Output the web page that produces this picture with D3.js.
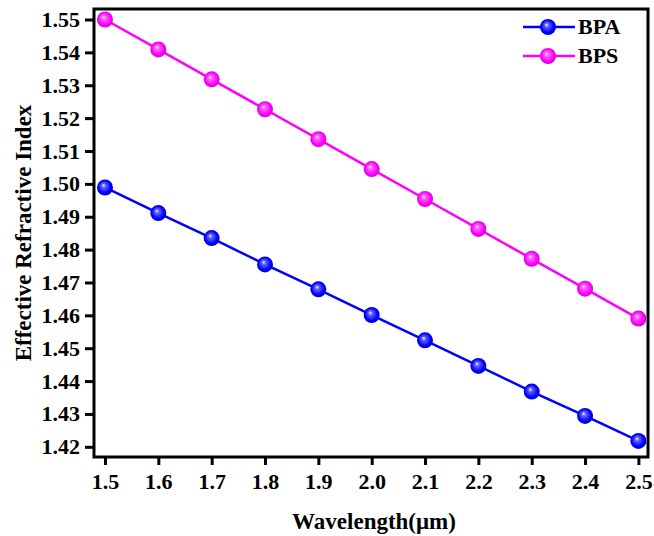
<!DOCTYPE html>
<html>
<head>
<meta charset="utf-8">
<script src="https://cdn.jsdelivr.net/npm/d3@7"></script>
<style>
  body { margin: 0; background: #fff; }
  text { font-family: "Liberation Serif", "Times New Roman", serif; font-weight: bold; }
</style>
</head>
<body>
<div id="chart"></div>
<script>
// données
var wavelength = [1.5, 1.6, 1.7, 1.8, 1.9, 2.0, 2.1, 2.2, 2.3, 2.4, 2.5];
var bpa = [1.4989, 1.4911, 1.4835, 1.4755, 1.4679, 1.4601, 1.4524, 1.4446, 1.4368, 1.4294, 1.4218];
var bps = [1.5500, 1.5409, 1.5318, 1.5227, 1.5136, 1.5045, 1.4954, 1.4863, 1.4772, 1.4681, 1.4590];
var xTicks = [1.5, 1.6, 1.7, 1.8, 1.9, 2.0, 2.1, 2.2, 2.3, 2.4, 2.5];
var yTicks = [1.42, 1.43, 1.44, 1.45, 1.46, 1.47, 1.48, 1.49, 1.50, 1.51, 1.52, 1.53, 1.54, 1.55];
var seriesNames = ["BPA", "BPS"];
var seriesColors = ["#0000ff", "#ff00ff"];

var width = 654, height = 536;
var margin = { left: 94, top: 9, right: 6, bottom: 79 };

var svg = d3.select("#chart").append("svg")
    .attr("width", width)
    .attr("height", height);

var x = d3.scaleLinear().domain([1.4794, 2.518]).range([margin.left, width - margin.right]);
var y = d3.scaleLinear().domain([1.4169, 1.5532]).range([height - margin.bottom, margin.top]);

// dégradés pour l'effet sphère des marqueurs
var defs = svg.append("defs");
seriesColors.forEach(function (c, i) {
    var g = defs.append("radialGradient")
        .attr("id", "ball" + i)
        .attr("cx", "50%").attr("cy", "50%").attr("r", "55%")
        .attr("fx", "40%").attr("fy", "35%");
    g.append("stop").attr("offset", "0%").attr("stop-color", "#ffffff");
    g.append("stop").attr("offset", "22%").attr("stop-color", d3.interpolateRgb("#ffffff", c)(0.6));
    g.append("stop").attr("offset", "70%").attr("stop-color", c);
    g.append("stop").attr("offset", "100%").attr("stop-color", d3.color(c).darker(0.7));
});

// axes
var xAxis = svg.append("g")
    .attr("transform", "translate(0," + (height - margin.bottom) + ")")
    .call(d3.axisBottom(x).tickValues(xTicks).tickFormat(d3.format(".1f")).tickSize(8).tickPadding(8));
var yAxis = svg.append("g")
    .attr("transform", "translate(" + margin.left + ",0)")
    .call(d3.axisLeft(y).tickValues(yTicks).tickFormat(d3.format(".2f")).tickSize(9).tickPadding(5));

[xAxis, yAxis].forEach(function (a) {
    a.select(".domain").remove();
    a.selectAll(".tick line").attr("stroke", "#000").attr("stroke-width", 3);
    a.selectAll(".tick text").attr("fill", "#000").style("font-size", "22px");
});

// cadre
svg.append("rect")
    .attr("x", margin.left)
    .attr("y", margin.top)
    .attr("width", width - margin.left - margin.right)
    .attr("height", height - margin.top - margin.bottom)
    .attr("fill", "none")
    .attr("stroke", "#000")
    .attr("stroke-width", 3);

// séries
var series = [bpa, bps];
var line = d3.line()
    .x(function (d, i) { return x(wavelength[i]); })
    .y(function (d) { return y(d); });

series.forEach(function (s, k) {
    svg.append("path")
        .datum(s)
        .attr("d", line)
        .attr("fill", "none")
        .attr("stroke", seriesColors[k])
        .attr("stroke-width", 2.5);
    svg.selectAll(".pt" + k)
        .data(s)
        .enter()
        .append("circle")
        .attr("cx", function (d, i) { return x(wavelength[i]); })
        .attr("cy", function (d) { return y(d); })
        .attr("r", 8)
        .attr("fill", "url(#ball" + k + ")");
});

// légende
seriesNames.forEach(function (name, k) {
    var ly = 27 + k * 29;
    svg.append("line")
        .attr("x1", 523).attr("x2", 575)
        .attr("y1", ly).attr("y2", ly)
        .attr("stroke", seriesColors[k])
        .attr("stroke-width", 2.5);
    svg.append("circle")
        .attr("cx", 548).attr("cy", ly).attr("r", 8)
        .attr("fill", "url(#ball" + k + ")");
    svg.append("text")
        .attr("x", 578).attr("y", ly + 7)
        .style("font-size", "22px")
        .text(name);
});

// titres des axes
svg.append("text")
    .attr("x", 374)
    .attr("y", 529)
    .attr("text-anchor", "middle")
    .style("font-size", "23px")
    .text("Wavelength(μm)");

svg.append("text")
    .attr("transform", "translate(31," + ((margin.top + height - margin.bottom) / 2) + ") rotate(-90)")
    .attr("text-anchor", "middle")
    .style("font-size", "23px")
    .text("Effective Refractive Index");
</script>
</body>
</html>
